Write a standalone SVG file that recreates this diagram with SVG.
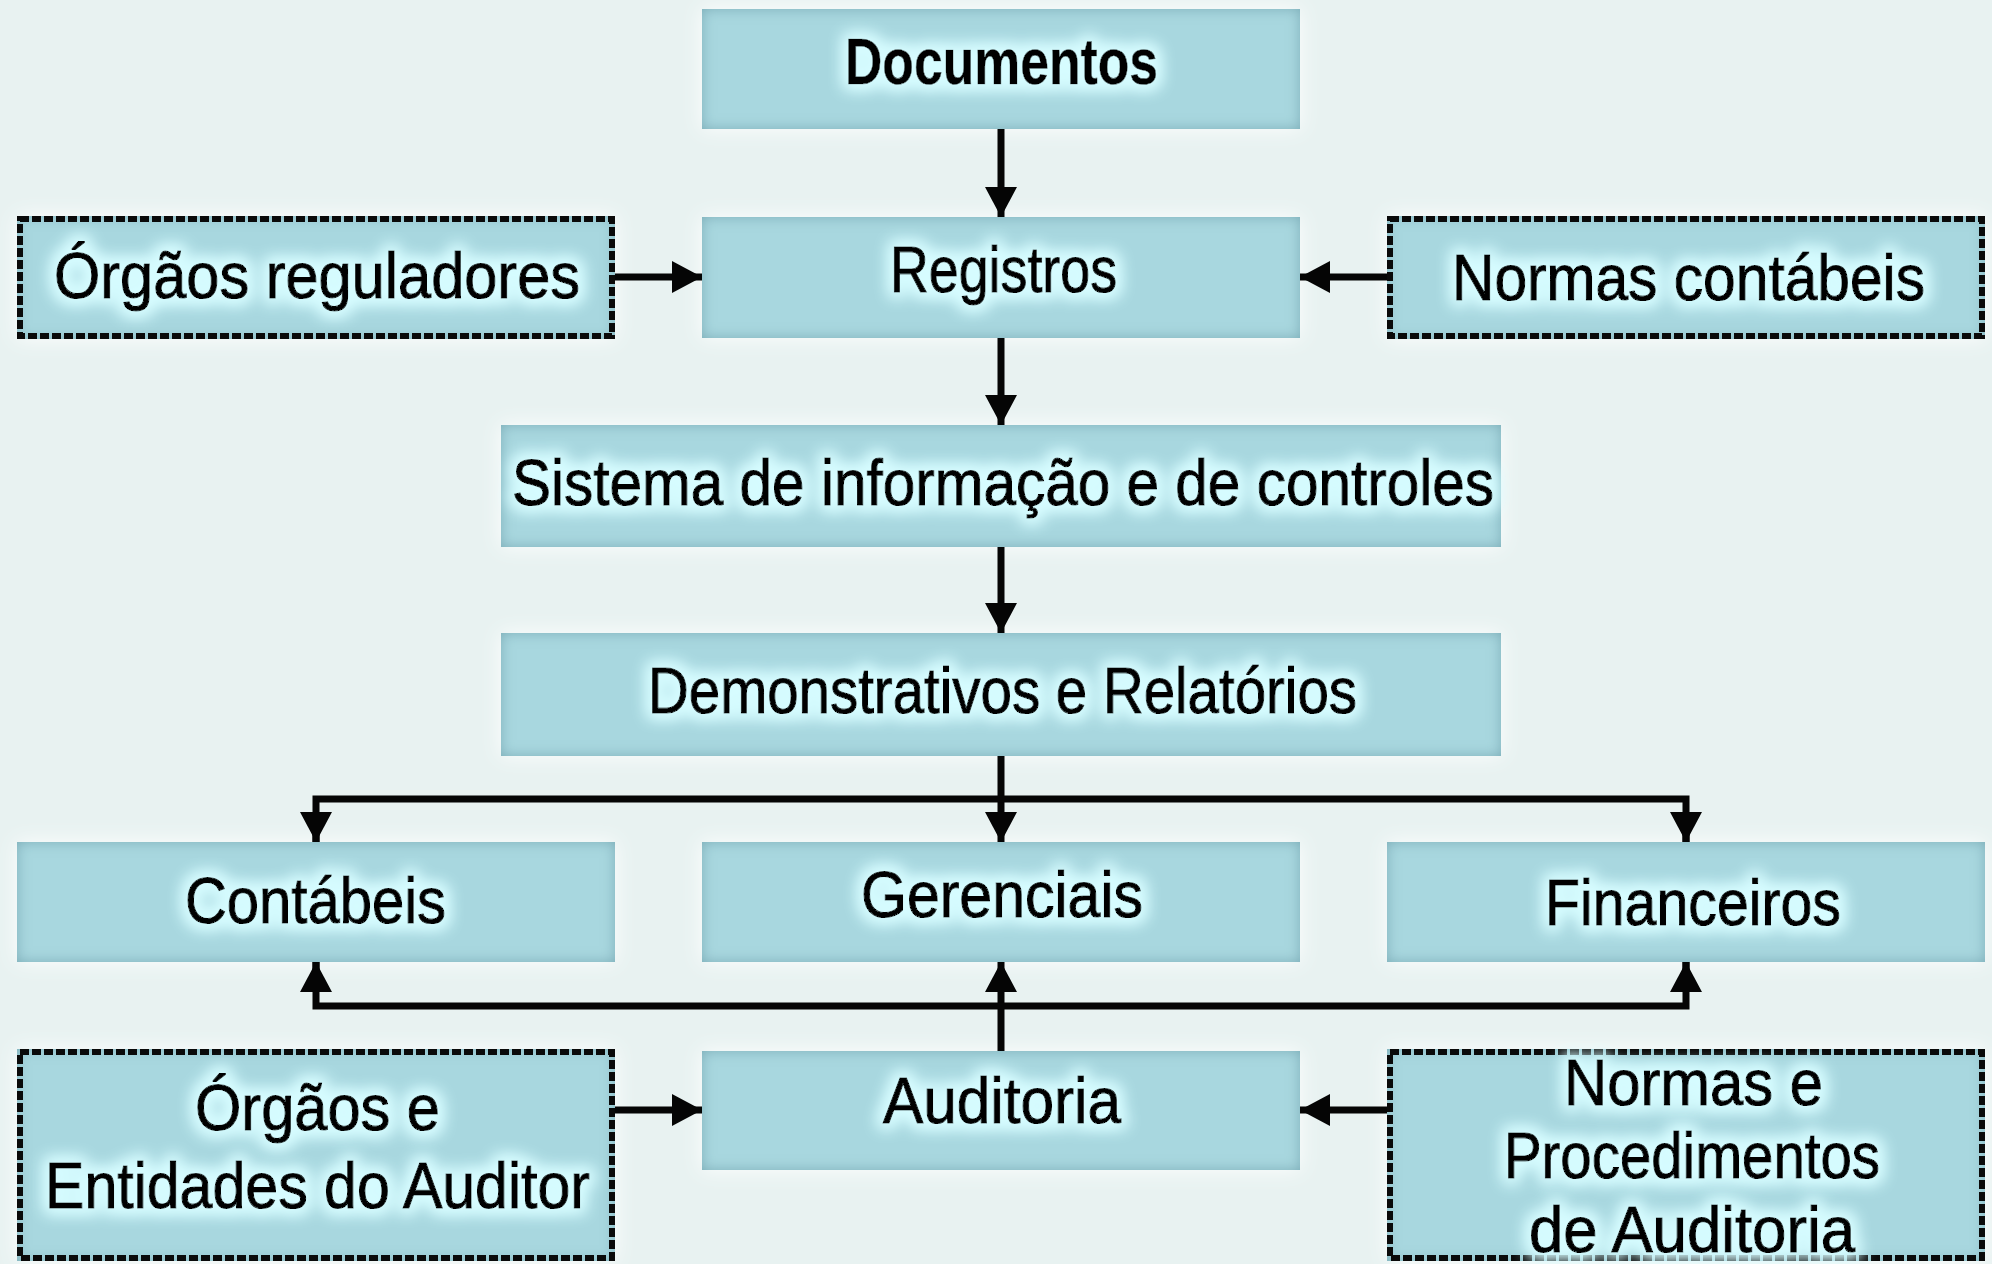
<svg xmlns="http://www.w3.org/2000/svg" width="1992" height="1264" viewBox="0 0 1992 1264">
<defs>
<style>
.box{fill:#A8D7DF;filter:url(#boxf)}
.dash{fill:none;stroke:#0a0a0a;stroke-width:6;stroke-dasharray:9 3}
.lbl{font-family:"Liberation Sans",Arial,sans-serif;font-size:64px;fill:#050505;stroke:#050505;stroke-width:1.2;filter:url(#tg)}
.bold{font-weight:bold;stroke-width:0.6}
.con{fill:none;stroke:#050505;stroke-width:7;stroke-linejoin:miter}
</style>
<filter id="boxf" x="-10%" y="-25%" width="120%" height="150%">
<feGaussianBlur in="SourceAlpha" stdDeviation="10" result="ob"/>
<feFlood flood-color="#ffffff" flood-opacity="0.95"/>
<feComposite in2="ob" operator="in" result="glow"/>
<feFlood flood-color="#6A9EAA" flood-opacity="0.8" result="dk"/>
<feComposite in="dk" in2="SourceAlpha" operator="out" result="outside"/>
<feGaussianBlur in="outside" stdDeviation="7" result="ib"/>
<feComposite in="ib" in2="SourceAlpha" operator="in" result="inner"/>
<feMerge><feMergeNode in="glow"/><feMergeNode in="SourceGraphic"/><feMergeNode in="inner"/></feMerge>
</filter>
<filter id="tg" x="-10%" y="-40%" width="120%" height="180%">
<feMorphology in="SourceAlpha" operator="dilate" radius="4" result="d"/>
<feGaussianBlur in="d" stdDeviation="8" result="b"/>
<feFlood flood-color="#D6FCFF"/>
<feComposite in2="b" operator="in" result="g"/>
<feMerge><feMergeNode in="g"/><feMergeNode in="g"/><feMergeNode in="SourceGraphic"/></feMerge>
</filter>
<marker id="ah" markerUnits="userSpaceOnUse" markerWidth="34" markerHeight="34" refX="30" refY="16" orient="auto">
<path d="M0,0 L30,16 L0,32 Z" fill="#050505"/>
</marker>
</defs>
<rect width="1992" height="1264" fill="#E8F2F1"/>

<g id="n-documentos"><rect class="box" x="702" y="9" width="598" height="120"/><text class="lbl bold" x="845" y="84" textLength="313" lengthAdjust="spacingAndGlyphs">Documentos</text></g>
<g id="n-registros"><rect class="box" x="702" y="217" width="598" height="121"/><text class="lbl" x="890" y="292" textLength="227" lengthAdjust="spacingAndGlyphs">Registros</text></g>
<g id="n-orgaos-reg"><rect class="box" x="17" y="216" width="598" height="123"/><rect class="dash" x="20" y="219" width="592" height="117"/><text class="lbl" x="54" y="298" textLength="526" lengthAdjust="spacingAndGlyphs">Órgãos reguladores</text></g>
<g id="n-normas-cont"><rect class="box" x="1387" y="216" width="598" height="123"/><rect class="dash" x="1390" y="219" width="592" height="117"/><text class="lbl" x="1452" y="300" textLength="473" lengthAdjust="spacingAndGlyphs">Normas contábeis</text></g>
<g id="n-sistema"><rect class="box" x="501" y="425" width="1000" height="122"/><text class="lbl" x="512" y="505" textLength="982" lengthAdjust="spacingAndGlyphs">Sistema de informação e de controles</text></g>
<g id="n-demonstrativos"><rect class="box" x="501" y="633" width="1000" height="123"/><text class="lbl" x="648" y="713" textLength="709" lengthAdjust="spacingAndGlyphs">Demonstrativos e Relatórios</text></g>
<g id="n-contabeis"><rect class="box" x="17" y="842" width="598" height="120"/><text class="lbl" x="185" y="923" textLength="261" lengthAdjust="spacingAndGlyphs">Contábeis</text></g>
<g id="n-gerenciais"><rect class="box" x="702" y="842" width="598" height="120"/><text class="lbl" x="861" y="917" textLength="282" lengthAdjust="spacingAndGlyphs">Gerenciais</text></g>
<g id="n-financeiros"><rect class="box" x="1387" y="842" width="598" height="120"/><text class="lbl" x="1545" y="925" textLength="296" lengthAdjust="spacingAndGlyphs">Financeiros</text></g>
<g id="n-auditoria"><rect class="box" x="702" y="1051" width="598" height="119"/><text class="lbl" x="883" y="1123" textLength="238" lengthAdjust="spacingAndGlyphs">Auditoria</text></g>
<g id="n-orgaos-ent"><rect class="box" x="17" y="1049" width="598" height="212"/><rect class="dash" x="20" y="1052" width="592" height="206"/><text class="lbl" x="195" y="1130" textLength="245" lengthAdjust="spacingAndGlyphs">Órgãos e</text><text class="lbl" x="45" y="1208" textLength="545" lengthAdjust="spacingAndGlyphs">Entidades do Auditor</text></g>
<g id="n-normas-proc"><rect class="box" x="1387" y="1049" width="598" height="212"/><rect class="dash" x="1390" y="1052" width="592" height="206"/><text class="lbl" x="1564" y="1105" textLength="259" lengthAdjust="spacingAndGlyphs">Normas e</text><text class="lbl" x="1504" y="1178" textLength="376" lengthAdjust="spacingAndGlyphs">Procedimentos</text><text class="lbl" x="1529" y="1252" textLength="326" lengthAdjust="spacingAndGlyphs">de Auditoria</text></g>

<g id="connectors">
<path class="con" d="M1001,129 V217" marker-end="url(#ah)"/>
<path class="con" d="M615,277 H702" marker-end="url(#ah)"/>
<path class="con" d="M1387,277 H1300" marker-end="url(#ah)"/>
<path class="con" d="M1001,338 V425" marker-end="url(#ah)"/>
<path class="con" d="M1001,547 V633" marker-end="url(#ah)"/>
<path class="con" d="M1001,756 V842" marker-end="url(#ah)"/>
<path class="con" d="M316,842 V799 H1686 V842"/>
<path class="con" d="M316,820 V842" marker-end="url(#ah)"/>
<path class="con" d="M1686,820 V842" marker-end="url(#ah)"/>
<path class="con" d="M1001,1051 V962" marker-end="url(#ah)"/>
<path class="con" d="M316,962 V1006 H1686 V962"/>
<path class="con" d="M316,985 V962" marker-end="url(#ah)"/>
<path class="con" d="M1686,985 V962" marker-end="url(#ah)"/>
<path class="con" d="M615,1110 H702" marker-end="url(#ah)"/>
<path class="con" d="M1387,1110 H1300" marker-end="url(#ah)"/>
</g>
</svg>
